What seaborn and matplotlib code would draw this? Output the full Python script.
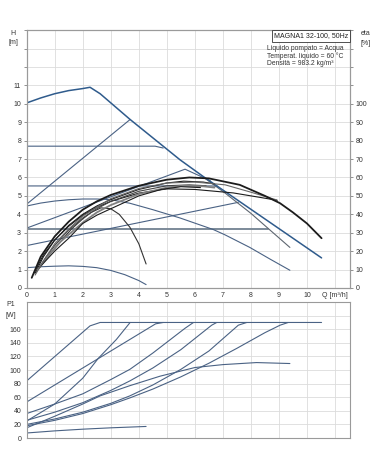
import numpy as np
import pandas as pd
import seaborn as sns
import matplotlib.pyplot as plt

sns.set_style("white")
plt.rcParams["font.family"] = ["Liberation Sans", "DejaVu Sans"]

# ---- QH curves (H in m vs Q in m3/h) ----
q_max = [0, 0.5, 1, 1.5, 2, 2.26, 2.62, 3.69, 5.47, 6.3, 8.0, 10.52]
h_max = [10.05, 10.32, 10.55, 10.72, 10.83, 10.9, 10.55, 9.15, 6.96, 6.05, 4.27, 1.63]
q_pp1 = [0, 3.69]
h_pp1 = [4.55, 9.15]
q_cp1 = [0, 4.58, 4.87]
h_cp1 = [7.7, 7.7, 7.6]
q_cp2 = [0, 6.6, 6.81]
h_cp2 = [5.54, 5.54, 5.52]
q_cp3 = [0, 8.6]
h_cp3 = [3.22, 3.22]
q_pp2 = [0, 5.65, 6.55]
h_pp2 = [3.25, 6.45, 5.82]
q_pp3 = [0, 7.55]
h_pp3 = [2.3, 4.65]
q_aa = [0, 0.5, 1, 1.5, 2, 2.5, 2.97, 3.68, 4.5, 5.47, 6.66, 7.08, 7.96, 8.7, 9.39]
h_aa = [4.45, 4.61, 4.72, 4.79, 4.83, 4.83, 4.8, 4.6, 4.25, 3.8, 3.17, 2.88, 2.2, 1.55, 0.96]
q_min = [0, 0.5, 1, 1.5, 2, 2.5, 3, 3.5, 4, 4.26]
h_min = [1.1, 1.15, 1.18, 1.2, 1.17, 1.1, 0.95, 0.72, 0.4, 0.18]
q_g = [6.3, 7.08, 8.0, 8.6, 9.39]
h_g = [6.02, 5.15, 4.05, 3.25, 2.2]

# ---- efficiency curves (eta in %) ----
q_e1 = [0.18, 0.5, 1, 1.5, 2, 2.5, 3, 4, 5, 5.8, 6.5, 7.6, 8.5, 9.04, 9.5, 10, 10.52]
e_e1 = [5.5, 17, 28, 36, 42.5, 47, 50.5, 55.5, 58.8, 60, 59.5, 56, 50, 46, 41, 35, 27]
q_e2 = [0.4, 0.8, 1.2, 1.6, 2, 2.3, 2.65, 3.0, 3.3, 3.68, 4.0, 4.26]
e_e2 = [10, 18, 25, 32, 37.5, 41, 43.5, 43, 40, 33, 24, 13]
q_e3 = [0.25, 0.6, 1, 1.5, 2, 2.5, 3, 4, 5, 6, 7.37, 8.2, 8.94]
e_e3 = [8, 18, 26, 33.5, 39.5, 43.8, 47, 51.5, 53.8, 53.5, 51.6, 49.5, 47.6]
q_e4 = [0.3, 0.6, 1, 1.5, 2, 2.5, 3, 4, 5, 5.6, 6.3, 6.7]
e_e4 = [8, 17, 26, 34, 40, 44.5, 48, 53.5, 57, 58, 57.5, 56.5]
q_e5 = [0.35, 0.7, 1, 1.5, 2, 2.5, 3, 4, 5, 5.8, 6.4]
e_e5 = [9, 17, 23, 31.5, 38, 43, 47, 52.5, 55.5, 56, 55.5]
q_e6 = [0.4, 0.8, 1.2, 2, 2.5, 3, 4, 5, 5.6, 6.3, 6.7]
e_e6 = [10, 18, 25, 35.5, 41, 45, 51, 54.5, 55.5, 55.2, 54.5]
q_e7 = [0.45, 1, 1.5, 2, 2.5, 3, 4, 4.8, 5.5, 6.2]
e_e7 = [11, 20, 27, 35, 39.5, 43, 50, 53.5, 55, 54.5]
q_e9 = [0.3, 0.7, 1, 1.5, 2, 3, 4, 5, 6, 7.08, 8, 8.92]
e_e9 = [7, 17, 24, 32, 39, 48.5, 54, 57, 57.5, 56, 52, 47.8]

# ---- power curves (P1 in W) ----
q_p1 = [0, 2.26, 2.62, 10.52]
p_p1 = [84, 165, 170, 170]
q_p2 = [0, 4.6, 4.87]
p_p2 = [53, 168, 170]
q_p3 = [0, 1, 2, 2.55, 3.2, 3.69]
p_p3 = [25, 50, 88, 117, 145, 170]
q_p4 = [0, 1, 2, 3, 3.68, 4.5, 5.65, 5.95]
p_p4 = [36, 50, 65, 86, 101, 125, 161.5, 170]
q_p5 = [0, 1, 2, 3, 3.68, 4.5, 5.5, 6.6, 6.78]
p_p5 = [26, 38, 52, 70, 84, 103, 130, 166, 170]
q_p6 = [0, 1, 2, 3, 3.68, 4.5, 5.5, 6.5, 7.55, 7.85]
p_p6 = [20, 28, 38, 51, 62, 78, 101, 128, 166, 170]
q_p7 = [0, 1, 2, 3, 3.68, 4.5, 5.5, 6.5, 7.5, 8.5, 9.04, 9.33]
p_p7 = [18, 26, 36, 49, 59, 72, 90, 110, 132, 155, 166, 170]
q_p8 = [0, 1, 2, 2.62, 3.68, 4.76, 6, 7, 8.2, 9.39]
p_p8 = [15, 32, 50, 62, 77, 91, 103.7, 108, 111, 109.6]
q_p9 = [0, 1, 2, 3, 4.26]
p_p9 = [7.4, 10.5, 13, 15, 17]

BLUE = "#2f5b8c"
STEEL = "#4a6284"
GREY = "#7c8a99"
BLACK = "#1c1c1c"
LGREY = "#808080"
GRID = "#dcdcdc"
FRAME = "#9a9a9a"
FS = 5.0


def curve(ax, q, v, color, lw):
    sns.lineplot(x=q, y=v, ax=ax, color=color, linewidth=lw, sort=False, estimator=None)


fig = plt.figure(figsize=(3.78, 4.72), dpi=100)
ax = fig.add_axes([0.0706, 0.390, 0.855, 0.546])
ax_e = ax.twinx()
axp = fig.add_axes([0.0706, 0.072, 0.855, 0.288])

# QH
for q, h, c, w in [(q_pp1, h_pp1, STEEL, 0.8), (q_cp1, h_cp1, STEEL, 0.8),
                   (q_cp2, h_cp2, STEEL, 0.8), (q_cp3, h_cp3, GREY, 1.4),
                   (q_pp2, h_pp2, STEEL, 0.8), (q_pp3, h_pp3, STEEL, 0.8),
                   (q_aa, h_aa, STEEL, 0.8), (q_min, h_min, STEEL, 0.8),
                   (q_g, h_g, "#5e6670", 0.8), (q_max, h_max, BLUE, 1.1)]:
    curve(ax, q, h, c, w)

# eta
for q, e, c, w in [(q_e2, e_e2, "#333333", 0.8), (q_e3, e_e3, BLACK, 0.8),
                   (q_e4, e_e4, BLACK, 0.8), (q_e5, e_e5, "#444444", 0.8),
                   (q_e6, e_e6, LGREY, 1.3), (q_e7, e_e7, BLACK, 0.8),
                   (q_e9, e_e9, "#666666", 0.8), (q_e1, e_e1, BLACK, 1.3)]:
    curve(ax_e, q, e, c, w)

# P1
for q, p in [(q_p1, p_p1), (q_p2, p_p2), (q_p3, p_p3), (q_p4, p_p4), (q_p5, p_p5),
             (q_p6, p_p6), (q_p7, p_p7), (q_p8, p_p8), (q_p9, p_p9)]:
    curve(axp, q, p, STEEL, 0.8)

xt = list(range(12))
ax.set_xlim(0, 11.53)
ax.set_ylim(0, 14)
ax_e.set_ylim(0, 140)
ax.set_xticks(xt)
ax.set_xticklabels([str(i) for i in range(11)] + ["Q [m³/h]"])
ax.set_yticks(range(15))
ax.set_yticklabels([str(i) if i <= 11 else "" for i in range(15)])
ax_e.set_yticks(range(0, 141, 10))
ax_e.set_yticklabels([str(i) if i <= 100 else "" for i in range(0, 141, 10)])
ax.grid(True, color=GRID, lw=0.6)
ax.set_axisbelow(True)

axp.set_xlim(0, 11.53)
axp.set_ylim(0, 200)
axp.set_xticks(xt)
axp.set_xticklabels([])
axp.set_yticks(range(0, 201, 20))
axp.set_yticklabels([str(i) if i <= 160 else "" for i in range(0, 201, 20)])
axp.grid(True, color=GRID, lw=0.6)
axp.set_axisbelow(True)

for a in (ax, ax_e, axp):
    a.set_xlabel("")
    a.set_ylabel("")
    for s in a.spines.values():
        s.set_color(FRAME)
        s.set_linewidth(0.8)
    a.tick_params(labelsize=FS, length=2, width=0.5, color="#666666", pad=2,
                  labelcolor="#333333")
ax.tick_params(axis="x", length=0, pad=3)
axp.tick_params(axis="x", length=0)

fig.text(0.034, 0.930, "H", fontsize=FS, ha="center", va="center", color="#333333")
fig.text(0.035, 0.909, "[m]", fontsize=FS, ha="center", va="center", color="#333333")
fig.text(0.968, 0.930, "eta", fontsize=FS, ha="center", va="center", color="#333333")
fig.text(0.968, 0.908, "[%]", fontsize=FS, ha="center", va="center", color="#333333")
fig.text(0.027, 0.354, "P1", fontsize=FS, ha="center", va="center", color="#333333")
fig.text(0.029, 0.332, "[W]", fontsize=FS, ha="center", va="center", color="#333333")

ax_e.text(0.995, 0.991, "MAGNA1 32-100, 50Hz", transform=ax.transAxes, fontsize=5.0,
          ha="right", va="top", color="#222222",
          bbox=dict(boxstyle="square,pad=0.3", fc="white", ec="#333333", lw=0.6))
for i, t in enumerate(["Liquido pompato = Acqua", "Temperat. liquido = 60 °C",
                       "Densità = 983.2 kg/m³"]):
    ax_e.text(0.744, 0.929 - i * 0.029, t, transform=ax.transAxes, fontsize=4.9,
              ha="left", va="center", color="#333333")

fig.savefig("out.png", dpi=100)
